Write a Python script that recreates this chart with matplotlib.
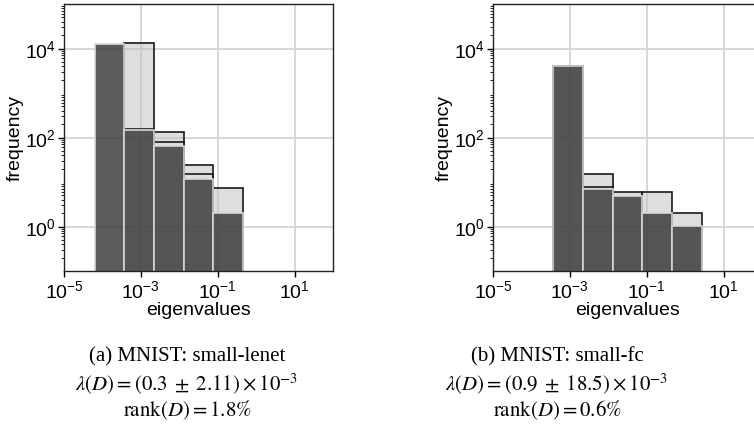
import numpy as np
import matplotlib
matplotlib.use("Agg")
import matplotlib.pyplot as plt
from matplotlib.ticker import LogLocator, LogFormatterMathtext, NullFormatter

plt.rcParams['font.family'] = ['Liberation Sans', 'DejaVu Sans']
plt.rcParams['mathtext.fontset'] = 'custom'
plt.rcParams['mathtext.rm'] = 'Liberation Sans'
plt.rcParams['mathtext.it'] = 'Liberation Sans:italic'
plt.rcParams['mathtext.bf'] = 'Liberation Sans:bold'

# ---- data ----
bin_edges_log10 = [-4.2, -3.43, -2.66, -1.89, -1.11, -0.33, 0.45]

lenet_light = [0, 13500, 134, 24, 7.2, 0]
lenet_mid = [0, 158, 78, 15, 0, 0]
lenet_dark = [12900, 144, 65, 11.6, 2.0, 0]

fc_light = [0, 4000, 15, 6.1, 6.1, 2.0]
fc_mid = [0, 0, 7.6, 0, 0, 0]
fc_dark = [0, 4000, 7.1, 4.9, 2.0, 1.0]

captions = [
    ("(a) MNIST: small-lenet", r"$\lambda(D) = (0.3\;\pm\;2.11) \times 10^{-3}$", r"$\mathrm{rank}(D) = 1.8\%$"),
    ("(b) MNIST: small-fc", r"$\lambda(D) = (0.9\;\pm\;18.5) \times 10^{-3}$", r"$\mathrm{rank}(D) = 0.6\%$"),
]
x_tick_vals = [1e-5, 1e-3, 1e-1, 1e1]
y_tick_vals = [1e0, 1e2, 1e4]

W, H = 754, 427
fig = plt.figure(figsize=(W / 100, H / 100), dpi=100)

edges = 10.0 ** np.array(bin_edges_log10)
lefts = edges[:-1]
widths = np.diff(edges)


def panel(ax, light, mid, dark):
    ax.set_xscale('log')
    ax.set_yscale('log')
    ax.set_axisbelow(True)
    ax.grid(True, which='major', color='#d4d4d4', linewidth=1.3)
    bottom = 1e-3
    ax.bar(lefts, light, width=widths, align='edge', bottom=bottom,
           facecolor=(0.75, 0.75, 0.75, 0.5), edgecolor='#1a1a1a', linewidth=1.2)
    ax.bar(lefts, mid, width=widths, align='edge', bottom=bottom,
           facecolor='none', edgecolor='#1a1a1a', linewidth=1.2)
    ax.bar(lefts, dark, width=widths, align='edge', bottom=bottom,
           facecolor=(0.2, 0.2, 0.2, 0.8), edgecolor=(0.85, 0.85, 0.85, 0.9), linewidth=1.3)
    ax.set_xlim(1e-5, 1e2)
    ax.set_ylim(1e-1, 1e5)
    ax.set_xticks(x_tick_vals)
    ax.xaxis.set_major_formatter(LogFormatterMathtext())
    ax.xaxis.set_minor_locator(LogLocator(base=10, subs=[]))
    ax.set_yticks(y_tick_vals)
    ax.yaxis.set_major_formatter(LogFormatterMathtext())
    ax.yaxis.set_minor_locator(LogLocator(base=10, subs=np.arange(2, 10), numticks=20))
    ax.yaxis.set_minor_formatter(NullFormatter())
    ax.tick_params(axis='both', which='major', labelsize=14, length=4, width=1, pad=2)
    ax.tick_params(axis='y', which='minor', length=2, width=0.6)
    for s in ax.spines.values():
        s.set_linewidth(1.0)
        s.set_color('#222222')
    ax.set_xlabel('eigenvalues', fontsize=14, labelpad=0)
    ax.set_ylabel('frequency', fontsize=14, labelpad=1)


axw = 269 / W
axh = 267 / H
axb = (H - 272) / H
ax1 = fig.add_axes([64 / W, axb, axw, axh])
ax2 = fig.add_axes([493 / W, axb, axw, axh])
panel(ax1, lenet_light, lenet_mid, lenet_dark)
panel(ax2, fc_light, fc_mid, fc_dark)

cx = [187 / W, 557 / W]
ys = [1 - 357 / H, 1 - 384 / H, 1 - 410 / H]
for i, (l1, l2, l3) in enumerate(captions):
    fig.text(cx[i], ys[0], l1, ha='center', va='center', fontsize=15, family='Liberation Serif')
    fig.text(cx[i], ys[1], l2, ha='center', va='center', fontsize=15, math_fontfamily='stix')
    fig.text(cx[i], ys[2], l3, ha='center', va='center', fontsize=15, math_fontfamily='stix')

fig.savefig('out.png', dpi=100)
